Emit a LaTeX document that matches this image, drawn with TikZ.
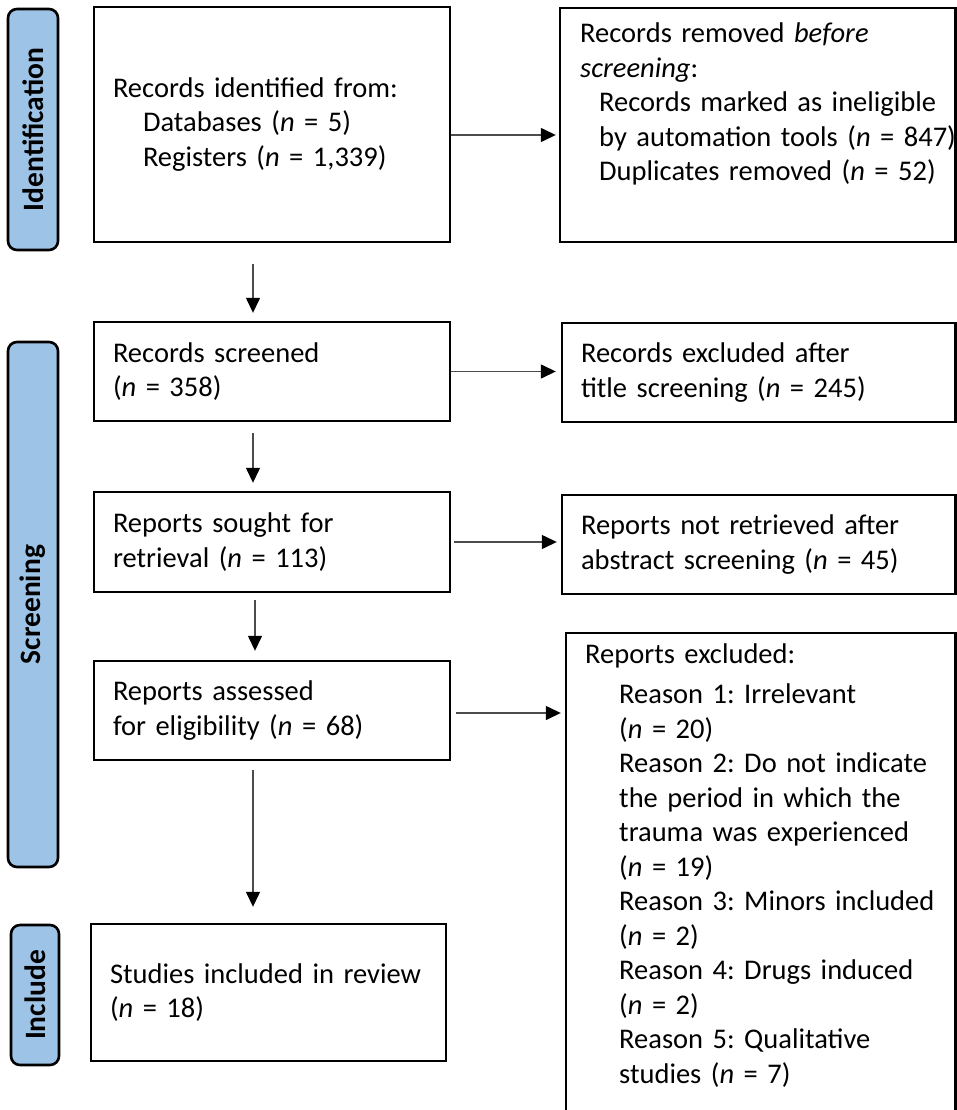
\documentclass[tikz,border=0pt]{standalone}
\usepackage{fontspec}
\setmainfont{Carlito}[WordSpace=0.8]
\usetikzlibrary{arrows.meta, positioning}
\definecolor{stageblue}{HTML}{9DC3E6}
\newcommand{\boxfont}{\fontsize{28.5}{34.5}\selectfont\frenchspacing}
\newcommand{\ind}[1][34]{\hspace*{#1pt}}
\tikzset{>={Triangle[length=15pt,width=14pt,color=black]}}
\tikzset{
	box/.style={draw, line width=2.4pt, rectangle, inner xsep=19pt, inner ysep=0pt, align=left, font=\boxfont},
	stage/.style={draw, line width=2.6pt, fill=stageblue, rounded corners=9pt, rotate=90, minimum height=50pt, font=\fontsize{29.5}{33}\selectfont\bfseries},
	flow/.style={->, line width=1.4pt, draw=black!70}
}
\begin{document}
\begin{tikzpicture}[x=1pt, y=-1pt]
	\clip (0,0) rectangle (957,1110);
	% stages
	\node[stage, minimum width=241pt] (identbar) at (33,129.5) {Identification};
	\node[stage, minimum width=525pt] (screenbar) at (33,604.5) {Screening};
	\node[stage, minimum width=140pt, minimum height=48pt] (includebar) at (35,995) {Include};
	% main column
	\node[box, text width=318pt, minimum height=235pt] (ident) at (272,124.5) {Records identified from:\\ \ind[30]Databases (\textit{n} = 5)\\ \ind[30]Registers (\textit{n} = 1,339)};
	\node[box, text width=318pt, minimum height=99pt] (screened) at (272,371.5) {Records screened\\ (\textit{n} = 358)};
	\node[box, text width=318pt, minimum height=100pt] (sought) at (272,542) {Reports sought for\\ retrieval (\textit{n} = 113)};
	\node[box, text width=318pt, minimum height=99pt] (assessed) at (272,710.5) {Reports assessed\\ for eligibility (\textit{n} = 68)};
	\node[box, text width=317pt, minimum height=137pt] (studies) at (268.5,992.5) {Studies included in review\\ (\textit{n} = 18)};
	% side column
	\node[box, minimum width=395.5pt, minimum height=234pt] (removed) at (757.75,125) {};
	\node[anchor=north west, align=left, text width=385pt, inner sep=0pt, font=\boxfont] (removedtext) at (580,23) {Records removed \textit{before}\\ \textit{screening}:\\ \ind[19]Records marked as ineligible\\ \ind[19]by automation tools (\textit{n} = 847)\\ \ind[19]Duplicates removed (\textit{n} = 52)};
	\node[box, text width=355.5pt, minimum height=99pt] (exclt) at (758.75,372.5) {Records excluded after\\ title screening (\textit{n} = 245)};
	\node[box, text width=355.5pt, minimum height=99pt] (notret) at (758.75,544.5) {Reports not retrieved after\\ abstract screening (\textit{n} = 45)};
	\node[box, minimum width=389.5pt, minimum height=507pt] (repexcl) at (760.75,886.5) {};
	\node[anchor=north west, align=left, text width=365pt, inner sep=0pt, font=\boxfont] (repexcltext) at (585,644) {Reports excluded:\\[5.5pt]
		\ind Reason 1: Irrelevant\\ \ind(\textit{n} = 20)\\
		\ind Reason 2: Do not indicate\\ \ind the period in which the\\ \ind trauma was experienced\\ \ind(\textit{n} = 19)\\
		\ind Reason 3: Minors included\\ \ind(\textit{n} = 2)\\
		\ind Reason 4: Drugs induced\\ \ind(\textit{n} = 2)\\
		\ind Reason 5: Qualitative\\ \ind studies (\textit{n} = 7)};
	% arrows
	\draw[flow, shorten <=21pt, shorten >=8pt] ([xshift=-19pt]ident.south) -- ([xshift=-19pt]screened.north);
	\draw[flow, shorten <=11pt, shorten >=8pt] ([xshift=-19pt]screened.south) -- ([xshift=-19pt]sought.north);
	\draw[flow, shorten <=7pt, shorten >=9pt] ([xshift=-17pt]sought.south) -- ([xshift=-17pt]assessed.north);
	\draw[flow, shorten <=9pt, shorten >=16pt] ([xshift=-19pt]assessed.south) -- ([xshift=-19pt]assessed.south |- studies.north);
	\draw[flow, shorten >=3pt] ([yshift=-10.5pt]ident.east) -- ([yshift=-10.5pt]ident.east -| removed.west);
	\draw[flow, shorten >=5pt] (screened.east) -- (screened.east -| exclt.west);
	\draw[flow, shorten <=3pt, shorten >=4pt] (sought.east) -- (sought.east -| notret.west);
	\draw[flow, shorten <=5pt, shorten >=4pt] ([yshift=-2.5pt]assessed.east) -- ([yshift=-2.5pt]assessed.east -| repexcl.west);
\end{tikzpicture}
\end{document}
